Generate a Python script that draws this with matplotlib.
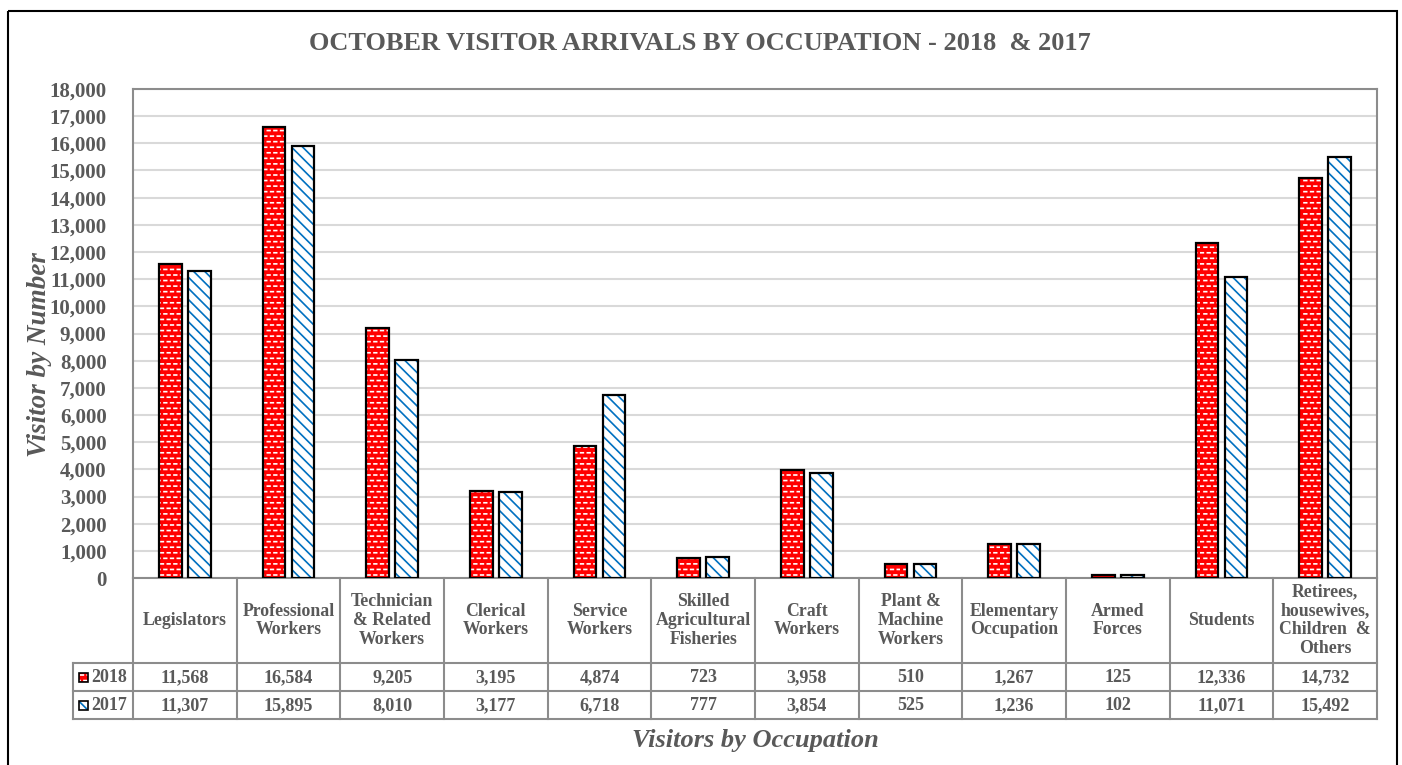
import numpy as np
import matplotlib
matplotlib.use('Agg')
import matplotlib.pyplot as plt
import matplotlib.hatch as mhatch
from matplotlib.path import Path
from matplotlib import transforms
from matplotlib.patches import Rectangle

# Données
categories = ['Legislators', 'Professional\nWorkers', 'Technician\n& Related\nWorkers',
              'Clerical\nWorkers', 'Service\nWorkers', 'Skilled\nAgricultural\nFisheries',
              'Craft\nWorkers', 'Plant &\nMachine\nWorkers', 'Elementary\nOccupation',
              'Armed\nForces', 'Students', 'Retirees,\nhousewives,\nChildren  &\nOthers']
visitors_2018 = [11568, 16584, 9205, 3195, 4874, 723, 3958, 510, 1267, 125, 12336, 14732]
visitors_2017 = [11307, 15895, 8010, 3177, 6718, 777, 3854, 525, 1236, 102, 11071, 15492]
series_labels = ['2018', '2017']
y_ticks = list(range(0, 18001, 1000))


# motif "briques" : tirets blancs décalés à la place des lignes horizontales
class DashHatch(mhatch.HorizontalHatch):
    def __init__(self, hatch, density):
        self.num_rows = int((hatch.count('-') + hatch.count('+')) * density)
        self.per_row = 15
        self.num_vertices = self.num_rows * self.per_row * 2

    def set_vertices_and_codes(self, vertices, codes):
        k = self.per_row
        i = 0
        for r in range(self.num_rows):
            y = (r + 0.5) / self.num_rows
            for j in range(k):
                x0 = (j + 0.5 * (r % 2) + 0.1) / k
                vertices[i] = (x0, y)
                vertices[i + 1] = (x0 + 0.4 / k, y)
                codes[i] = Path.MOVETO
                codes[i + 1] = Path.LINETO
                i += 2


mhatch._hatch_types[:] = [DashHatch if t is mhatch.HorizontalHatch else t
                          for t in mhatch._hatch_types]
plt.rcParams['hatch.linewidth'] = 1.2

gray = '#595959'
font = 'Liberation Serif'
W, H = 1402, 765

fig = plt.figure(figsize=(W / 100, H / 100), dpi=100)
ax = fig.add_axes([133 / W, 1 - 578 / H, (1377 - 133) / W, (578 - 89) / H])

x = np.arange(len(categories))
off, bw = 0.14, 0.22
red, blue = '#FF0000', '#0070C0'

ax.bar(x - off, visitors_2018, bw, color=red, edgecolor='white', linewidth=0, hatch='---', zorder=3)
ax.bar(x - off, visitors_2018, bw, fill=False, edgecolor='black', linewidth=1.6, zorder=4)
ax.bar(x + off, visitors_2017, bw, color='white', edgecolor=blue, linewidth=0, hatch='\\\\\\', zorder=3)
ax.bar(x + off, visitors_2017, bw, fill=False, edgecolor='black', linewidth=1.6, zorder=4)

ax.set_xlim(-0.5, len(categories) - 0.5)
ax.set_ylim(0, 18000)
ax.set_yticks(y_ticks)
ax.set_yticklabels([f'{v:,}' for v in y_ticks], fontsize=15, fontweight='bold',
                   color=gray, family=font)
ax.set_xticks([])
ax.tick_params(axis='y', length=0, pad=19)
ax.yaxis.grid(True, color='#D9D9D9', linewidth=1.5, zorder=0)
for s in ax.spines.values():
    s.set_color('#8C8C8C')
    s.set_linewidth(1.5)

ax.set_ylabel('Visitor by Number', fontsize=19.5, fontweight='bold', style='italic',
              color=gray, family=font, va='center')
ax.yaxis.set_label_coords(40 / W, 1 - 355 / H, transform=fig.transFigure)

fig.text(700 / W, 1 - 44 / H, 'OCTOBER VISITOR ARRIVALS BY OCCUPATION - 2018  & 2017',
         ha='center', va='center', fontsize=19, fontweight='bold', color=gray, family=font)
fig.text(755 / W, 1 - 740 / H, 'Visitors by Occupation', ha='center', va='center',
         fontsize=19, fontweight='bold', style='italic', color=gray, family=font)

# tableau de données sous le graphique
px = transforms.Affine2D().scale(1 / 100).scale(1, -1).translate(0, H / 100) + fig.dpi_scale_trans
tr = transforms.blended_transform_factory(ax.transData, px)
lc = '#8C8C8C'
lw = 1.5
y_head, y_r1, y_r2, y_r3 = 578, 663, 691, 719
left_lab = -0.5 - 60 / 103.7

for xv in np.arange(-0.5, len(categories), 1.0):
    ax.plot([xv, xv], [y_head, y_r3], color=lc, lw=lw, transform=tr, clip_on=False)
ax.plot([left_lab, left_lab], [y_r1, y_r3], color=lc, lw=lw, transform=tr, clip_on=False)
for yv in (y_r1, y_r2, y_r3):
    ax.plot([left_lab, len(categories) - 0.5], [yv, yv], color=lc, lw=lw, transform=tr, clip_on=False)

for i, cat in enumerate(categories):
    ax.text(i, (y_head + y_r1) / 2, cat, ha='center', va='center', fontsize=12.8,
            fontweight='bold', color=gray, family=font, linespacing=1.15, transform=tr)
    ax.text(i, (y_r1 + y_r2) / 2 + 1, f'{visitors_2018[i]:,}', ha='center', va='center',
            fontsize=13, fontweight='bold', color=gray, family=font, transform=tr)
    ax.text(i, (y_r2 + y_r3) / 2 + 1, f'{visitors_2017[i]:,}', ha='center', va='center',
            fontsize=13, fontweight='bold', color=gray, family=font, transform=tr)

key_styles = [dict(facecolor=red, hatch='---', edgecolor='white'),
              dict(facecolor='white', hatch='\\\\\\', edgecolor=blue)]
for lab, yc, st in zip(series_labels, [(y_r1 + y_r2) / 2, (y_r2 + y_r3) / 2], key_styles):
    fig.patches.append(Rectangle((79, yc - 4), 9, 9, transform=px, linewidth=0, **st))
    fig.patches.append(Rectangle((79, yc - 4), 9, 9, transform=px, fill=False,
                                 edgecolor='black', linewidth=1.2))
    fig.text(91, yc + 1, lab, ha='left', va='center', fontsize=13, fontweight='bold',
             color=gray, family=font, transform=px)

# cadre extérieur
fig.patches.append(Rectangle((8, 11), 1389, 770, transform=px, fill=False,
                             edgecolor='black', linewidth=1.5))

fig.savefig('out.png', dpi=100)
